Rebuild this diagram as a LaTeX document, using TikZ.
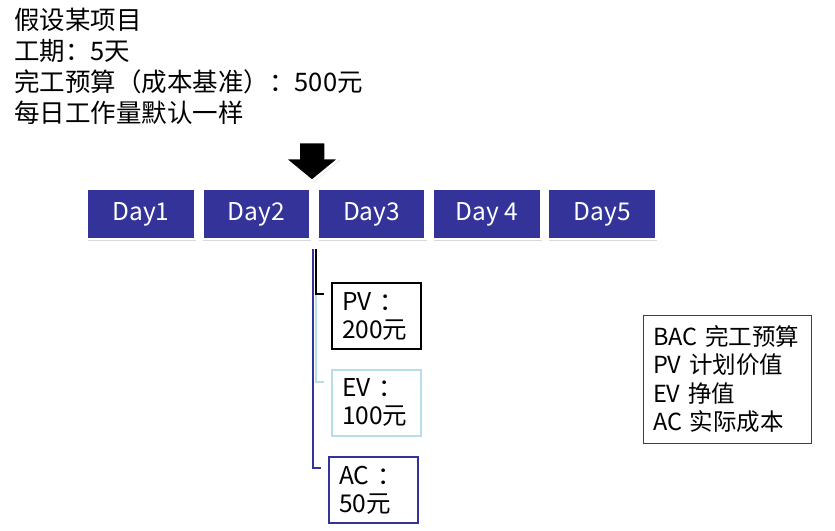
\documentclass[tikz,border=0pt]{standalone}
\usepackage{fontspec}
\setmainfont{Noto Sans CJK SC}
\usetikzlibrary{shadows}
\definecolor{dayblue}{RGB}{51,51,153}
\definecolor{evcyan}{RGB}{183,221,230}
\tikzset{
	day_box/.style = {
		rectangle,
		fill=dayblue,
		draw=white,
		line width=2.5pt,
		text=white,
		inner sep=0pt,
		minimum width=108pt,
		minimum height=50pt,
		font=\fontsize{24.5}{26}\selectfont,
		drop shadow={opacity=0.3, shadow xshift=1pt, shadow yshift=-1.5pt}
	},
	val_box/.style = {
		rectangle,
		line width=2pt,
		align=left,
		inner xsep=10pt,
		inner ysep=0pt,
		text width=69pt,
		minimum height=66pt,
		font=\fontsize{24.5}{28}\selectfont
	},
	key_box/.style = {
		rectangle,
		draw=black!75,
		line width=1pt,
		align=left,
		inner xsep=10pt,
		text width=148pt,
		minimum height=128pt,
		font=\fontsize{23.5}{28.5}\selectfont
	},
	link/.style = {
		line width=2pt
	},
}
\begin{document}
\begin{tikzpicture}[x=1pt, y=-1pt]
\useasboundingbox (0,0) rectangle (835,530);
% project facts
\node [anchor=north west, inner sep=0pt, align=left, font=\fontsize{25.5}{30.8}\selectfont] (facts) at (14,8)
	{假设某项目\\工期：5天\\完工预算（成本基准）：500元\\每日工作量默认一样};
% the five days
\foreach \lbl [count=\i] in {Day1,Day2,Day3,Day 4,Day5}
	\node [day_box] (d\i) at ({141+115.3*(\i-1)},214) {\lbl};
% today marker
\filldraw [fill=black, draw=white, line width=2.5pt, drop shadow={opacity=0.3, shadow xshift=1pt, shadow yshift=-1.5pt}]
	(298.5,142) -- (325.5,142) -- (325.5,158) -- (340,158) -- (312,181)
	-- (284,158) -- (298.5,158) -- cycle;
% values
\node [val_box, draw=black] (pv) at (376.5,316) {PV ：\\200元};
\node [val_box, draw=evcyan] (ev) at (376.5,402.5) {EV ：\\100元};
\node [val_box, draw=dayblue] (ac) at (373.5,490) {AC ：\\50元};
\coordinate (tap) at ([xshift=-0.5pt, yshift=-9pt]d3.south west);
\draw [link, evcyan] (tap) |- ([xshift=-7pt, yshift=-13pt]ev.north west);
\draw [link, dayblue] ([xshift=-3pt]tap) |- ([xshift=-7pt, yshift=-12pt]ac.north west);
\draw [link, black] (tap) |- ([xshift=-7pt, yshift=-12pt]pv.north west);
% legend
\node [key_box] (key) at (727,379) {BAC 完工预算\\PV 计划价值\\EV 挣值\\AC 实际成本};
\end{tikzpicture}
\end{document}
